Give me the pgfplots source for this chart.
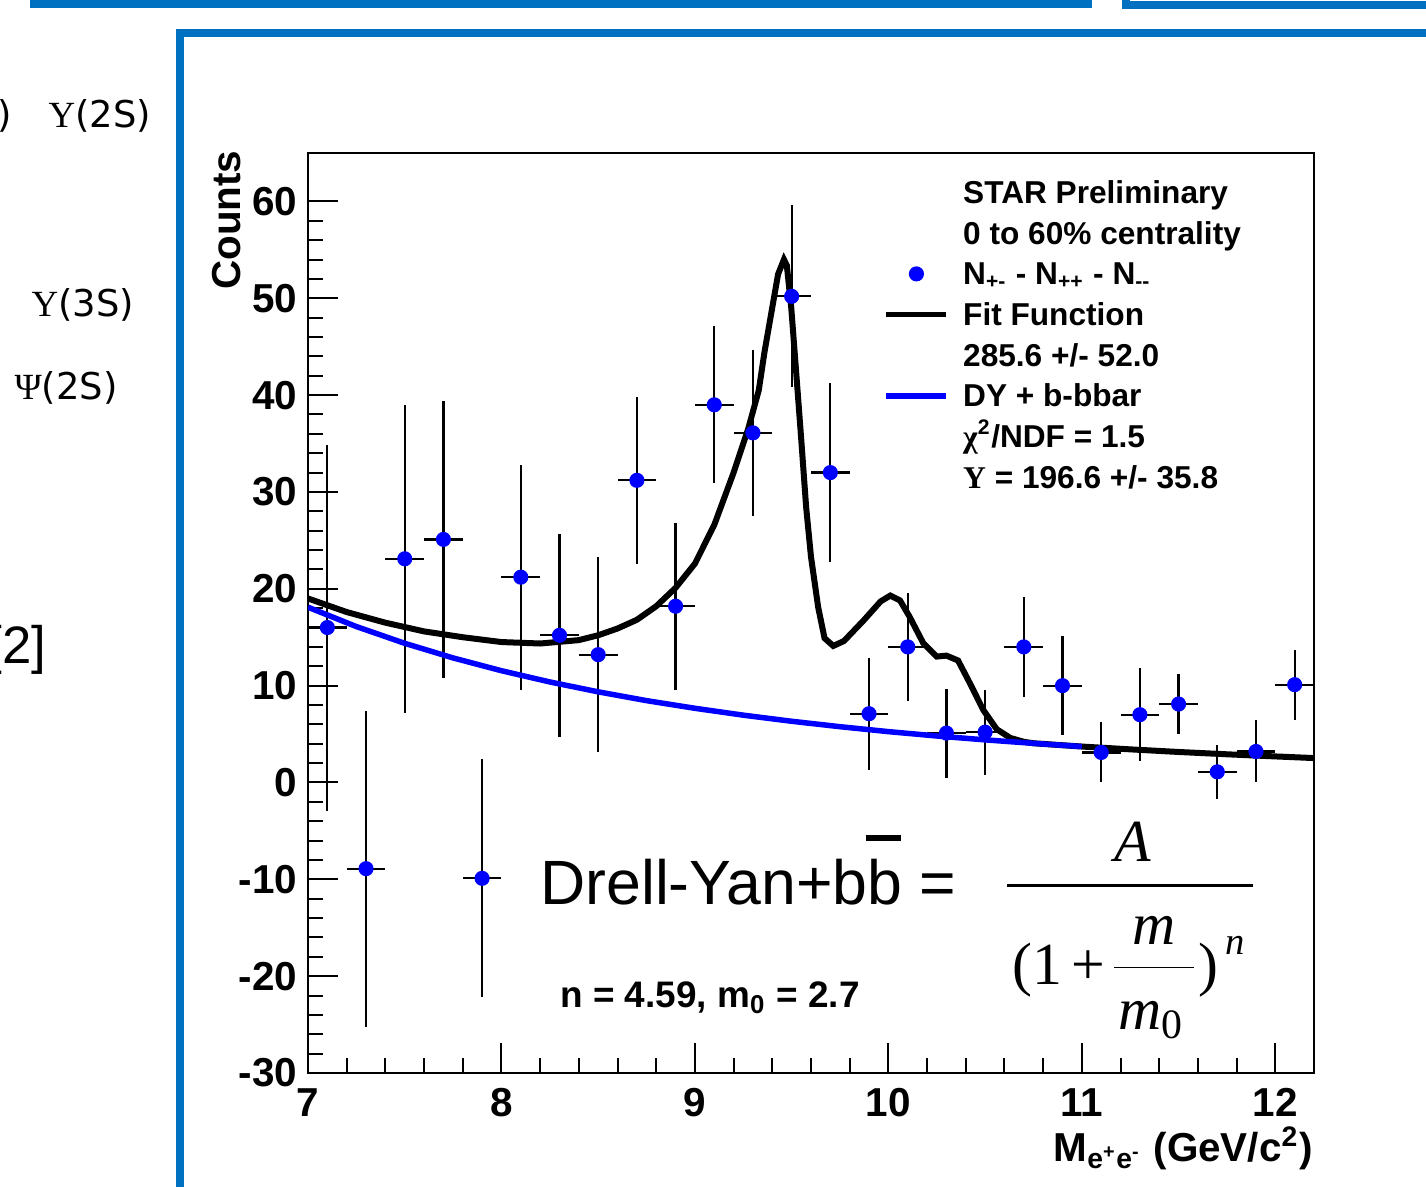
\documentclass[border=0pt]{standalone}
\usepackage{fontspec}
\setmainfont{Liberation Sans}
\newfontfamily\serif{Liberation Serif}
\newfontfamily\dejavu{DejaVu Sans}
\usepackage{pgfplots}
\usepackage{pgfplotstable}
\pgfplotsset{compat=1.18}
\definecolor{slideblue}{RGB}{0,112,192}

% N(+-) - N(++) - N(--) per 0.2 GeV bin
\pgfplotstableread{
x     y      ey
7.1   16.0   18.9
7.3   -8.9   16.3
7.5   23.1   15.9
7.7   25.1   14.3
7.9   -9.9   12.3
8.1   21.2   11.6
8.3   15.2   10.5
8.5   13.2   10.1
8.7   31.2    8.6
8.9   18.2    8.6
9.1   39.0    8.1
9.3   36.1    8.6
9.5   50.2    9.4
9.7   32.0    9.2
9.9    7.1    5.8
10.1  14.0    5.6
10.3   5.1    4.6
10.5   5.2    4.4
10.7  14.0    5.2
10.9  10.0    5.1
11.1   3.1    3.1
11.3   7.0    4.8
11.5   8.1    3.1
11.7   1.1    2.8
11.9   3.2    3.2
12.1  10.1    3.6
}\counts

\begin{document}
\begin{tikzpicture}
\path[use as bounding box] (0,0) rectangle (14.26,11.87);
\clip (0,0) rectangle (14.26,11.87);

\begin{axis}[
    at={(3.08cm,1.14cm)}, anchor=south west,
    scale only axis, width=10.06cm, height=9.20cm,
    xmin=7, xmax=12.2, ymin=-30, ymax=65,
    xtick={7,8,...,12}, ytick={-30,-20,...,60},
    minor x tick num=4, minor y tick num=4,
    tick pos=left, tick align=inside,
    major tick length=0.3cm, minor tick length=0.15cm,
    axis line style={line width=0.02cm},
    tick style={black, line width=0.02cm},
    tick label style={font=\fontsize{11.5}{12}\selectfont\bfseries},
    /pgf/number format/assume math mode=true,
    yticklabel style={inner xsep=0pt, xshift=-0.1cm},
    xticklabel style={inner ysep=0pt, yshift=-0.15cm},
    legend cell align=left,
    legend style={draw=none, fill=none, at={(axis cs:9.972,63.1)}, anchor=north west,
        inner sep=0pt, row sep=0pt, font=\fontsize{9}{9}\selectfont\bfseries,
        nodes={inner ysep=0pt, inner xsep=0.14cm, text height=0.3135cm, text depth=0.0935cm}},
]
\addplot[forget plot, only marks, mark=*, mark size=1.95pt, blue,
    error bars/.cd, x dir=both, x fixed=0.1, y dir=both, y explicit,
    error mark=none, error bar style={black, line width=0.022cm}]
    table[x=x, y=y, y error=ey] {\counts};

% fit function
\addplot[forget plot, black, line width=0.06cm] coordinates {
    (7.0,19.0) (7.2,17.6) (7.4,16.5) (7.6,15.6) (7.8,15.0) (8.0,14.5)
    (8.2,14.35) (8.4,14.7) (8.5,15.2) (8.6,15.9) (8.7,16.8) (8.8,18.2)
    (8.9,20.1) (9.0,22.6) (9.1,26.6) (9.2,32.0) (9.275,36.5) (9.33,40.5)
    (9.36,44.5) (9.395,48.5) (9.43,52.5) (9.46,54.0) (9.475,53.4)
    (9.498,49.0) (9.524,42.2) (9.55,35.3) (9.575,28.4) (9.60,23.3)
    (9.637,18.1) (9.67,14.9) (9.715,14.1) (9.77,14.6) (9.875,16.8)
    (9.96,18.7) (10.01,19.3) (10.06,18.8) (10.11,17.1) (10.18,14.4)
    (10.25,13.0) (10.30,13.1) (10.36,12.6) (10.42,10.3) (10.49,7.5)
    (10.56,5.5) (10.63,4.6) (10.70,4.2) (10.75,4.05) (11.0,3.71)
    (11.25,3.42) (11.5,3.15) (11.75,2.91) (12.0,2.69) (12.2,2.52)
};
% DY + b-bbar
\addplot[forget plot, blue, line width=0.055cm] coordinates {
    (7.0,18.1) (7.25,16.10) (7.5,14.37) (7.75,12.86) (8.0,11.54)
    (8.25,10.38) (8.5,9.36) (8.75,8.45) (9.0,7.66) (9.25,6.95)
    (9.5,6.32) (9.75,5.76) (10.0,5.25) (10.25,4.80) (10.5,4.40)
    (10.75,4.04) (11.0,3.71)
};

\addlegendimage{empty legend}
\addlegendentry{STAR Preliminary}
\addlegendimage{empty legend}
\addlegendentry{0 to 60\% centrality}
\addlegendimage{only marks, mark=*, mark size=1.95pt, blue}
\addlegendentry{N\textsubscript{+-} - N\textsubscript{++} - N\textsubscript{-{}-}}
\addlegendimage{black, line width=0.055cm}
\addlegendentry{Fit Function}
\addlegendimage{empty legend}
\addlegendentry{285.6 +/- 52.0}
\addlegendimage{blue, line width=0.055cm}
\addlegendentry{DY + b-bbar}
\addlegendimage{empty legend}
\addlegendentry{{\serif χ}\textsuperscript{2}/NDF = 1.5}
\addlegendimage{empty legend}
\addlegendentry{{\serif Υ} = 196.6 +/- 35.8}
\end{axis}

\begin{scope}[x=0.01cm, y=-0.01cm, yshift=11.87cm]
  % slide frames
  \draw[slideblue, line width=0.08cm] (34,-60) rectangle (1089,4);
  \draw[slideblue, line width=0.08cm] (1127,-60) rectangle (1500,5);
  \draw[slideblue, line width=0.08cm] (180,33) rectangle (1500,1300);
  % slide text on the left
  \node[anchor=east, inner sep=0pt, font=\fontsize{10.5}{12}\dejavu] at (13,116) {)};
  \node[anchor=west, inner sep=0pt, font=\fontsize{10.5}{12}\dejavu] at (48,116) {{\serif Υ}(2S)};
  \node[anchor=west, inner sep=0pt, font=\fontsize{10.5}{12}\dejavu] at (31,305) {{\serif Υ}(3S)};
  \node[anchor=west, inner sep=0pt, font=\fontsize{10.5}{12}\dejavu] at (14,388) {{\serif Ψ}(2S)};
  \node[anchor=east, inner sep=0pt, font=\fontsize{15}{17}\selectfont] at (47,650) {[2]};
  % axis titles
  \node[rotate=90, anchor=east, inner sep=0pt, font=\fontsize{11.5}{12}\selectfont\bfseries] at (227,150) {Counts};
  \node[anchor=base east, inner sep=0pt, font=\fontsize{11.5}{12}\selectfont\bfseries] at (1314,1162)
      {M\textsubscript{e\textsuperscript{+}e\textsuperscript{-}} (GeV/c\textsuperscript{2})};
  % formula
  \node[anchor=base west, inner sep=0pt, font=\fontsize{17.8}{18}\selectfont] at (540,905) {Drell-Yan+bb =};
  \draw[line width=0.06cm] (866,838) -- (902,838);
  \draw[line width=0.025cm] (1008,886) -- (1254,886);
  \node[anchor=base, inner sep=0pt, font=\fontsize{17}{17}\serif\itshape] at (1133,862) {A};
  \node[anchor=base west, inner sep=0pt, font=\fontsize{17}{17}\serif] at (1012,985) {(1\,+};
  \draw[line width=0.015cm] (1115,968) -- (1195,968);
  \node[anchor=base, inner sep=0pt, font=\fontsize{17}{17}\serif\itshape] at (1155,945) {m};
  \node[anchor=base, inner sep=0pt, font=\fontsize{17}{17}\serif\itshape] at (1152,1030) {m\textsubscript{\upshape 0}};
  \node[anchor=base west, inner sep=0pt, font=\fontsize{17}{17}\serif] at (1198,985) {)};
  \node[anchor=base west, inner sep=0pt, font=\fontsize{11}{11}\serif\itshape] at (1225,955) {n};
  \node[anchor=base west, inner sep=0pt, font=\fontsize{10.5}{11}\selectfont\bfseries] at (560,1008)
      {n = 4.59, m\textsubscript{0} = 2.7};
\end{scope}
\end{tikzpicture}
\end{document}
